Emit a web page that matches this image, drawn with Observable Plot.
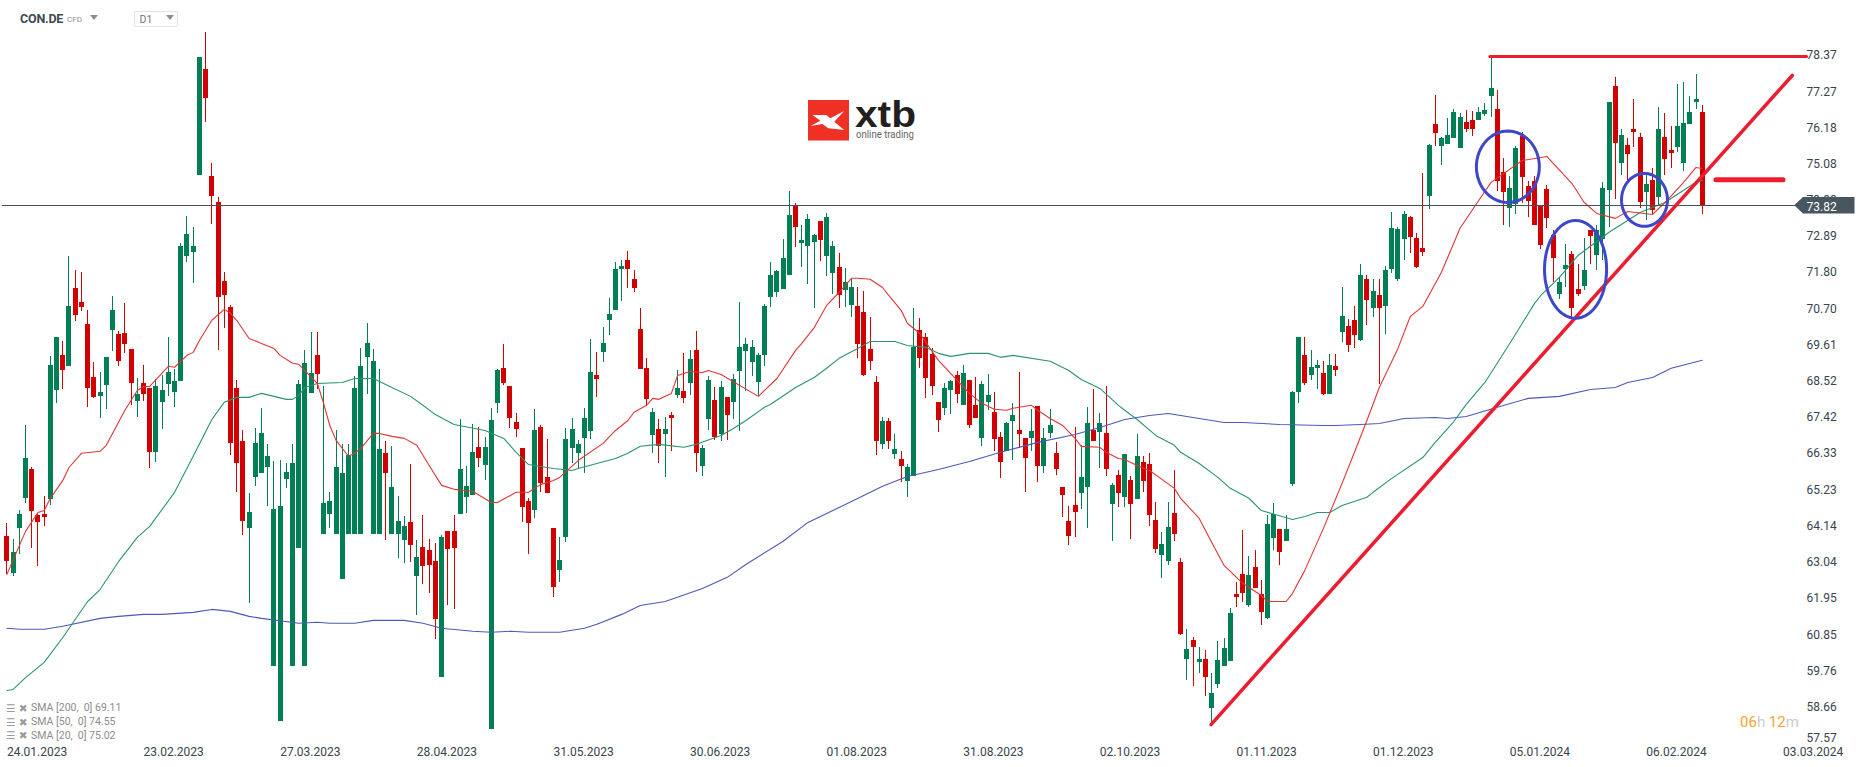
<!DOCTYPE html>
<html><head><meta charset="utf-8">
<style>
html,body{margin:0;padding:0;background:#fff;font-family:Roboto,sans-serif}
#wrap{position:relative;width:1866px;height:767px;overflow:hidden}
.o{position:absolute;white-space:pre;line-height:1}
</style>
<script src="https://cdn.jsdelivr.net/npm/d3@7"></script>
<script src="https://cdn.jsdelivr.net/npm/@observablehq/plot@0.6"></script>
</head><body>
<div id="wrap">
<div id="chart"></div>
<div class="o" style="left:20px;top:12.5px;font-size:12.5px;font-weight:700;color:#3d4a54;letter-spacing:-.2px">CON.DE</div>
<div class="o" style="left:67px;top:15.5px;font-size:8px;color:#8a8f94">CFD</div>
<div class="o" style="left:90px;top:15px;width:0;height:0;border-left:4px solid transparent;border-right:4px solid transparent;border-top:5px solid #8a8f94"></div>
<div class="o" style="left:134px;top:10.5px;width:42px;height:14px;border:1px solid #e2e2e2;border-radius:2px"></div>
<div class="o" style="left:139.5px;top:15px;font-size:10.5px;color:#777">D1</div>
<div class="o" style="left:166px;top:15px;width:0;height:0;border-left:4px solid transparent;border-right:4px solid transparent;border-top:5px solid #8a8f94"></div>
<svg class="o" style="left:0;top:0" width="1866" height="767">
  <rect x="808" y="100" width="41" height="40.5" fill="#ee3124"/>
  <path d="M812.5 115 L826.4 115 L830.3 118.3 L844.2 111 L834.3 121.7 L844.2 130 L828.3 128.3 L822.4 124 L810.5 126 L820.4 120.7 Z" fill="#fff"/>
  <text x="855" y="127" font-family="Liberation Sans" font-weight="700" font-size="36.5" fill="#231f20" textLength="61" lengthAdjust="spacingAndGlyphs">xtb</text>
  <text x="856" y="138" font-family="Roboto" font-size="10.5" fill="#666" textLength="58" lengthAdjust="spacingAndGlyphs">online trading</text>
</svg>
<div class="o" style="left:6px;top:702.5px;font-size:10.5px;color:#9a9a9a"><span style="font-family:'DejaVu Sans'">☰ ✖</span></div>
<div class="o" style="left:6px;top:716.5px;font-size:10.5px;color:#9a9a9a"><span style="font-family:'DejaVu Sans'">☰ ✖</span></div>
<div class="o" style="left:6px;top:730px;font-size:10.5px;color:#9a9a9a"><span style="font-family:'DejaVu Sans'">☰ ✖</span></div>
<div class="o" style="left:31px;top:703px;font-size:10.5px;color:#8c8c8c">SMA [200,  0] 69.11</div>
<div class="o" style="left:31px;top:717px;font-size:10.5px;color:#8c8c8c">SMA [50,  0] 74.55</div>
<div class="o" style="left:31px;top:730.5px;font-size:10.5px;color:#8c8c8c">SMA [20,  0] 75.02</div>
<div class="o" style="left:1740px;top:714.5px;font-size:15px;color:#ccc"><span style="color:#f7a531">06</span>h <span style="color:#f7a531">12</span>m</div>
</div>
<script>
const opens = [63.83,62.71,64.07,64.98,65.85,64.46,64.49,64.95,68.24,69.30,
68.97,71.32,70.90,70.24,68.63,68.06,68.39,70.05,69.93,69.96,
69.48,67.91,68.45,68.30,66.37,67.88,68.42,68.18,68.51,72.29,
72.41,74.74,77.94,74.71,73.92,71.54,70.75,68.30,66.70,64.07,
65.61,65.73,65.91,59.90,58.23,65.55,59.90,63.46,59.90,68.15,
69.30,63.89,64.49,63.89,62.53,63.89,63.89,63.89,69.24,63.89,
63.89,66.34,63.89,63.89,63.71,64.25,62.62,63.49,63.40,63.07,
59.56,63.98,63.98,64.49,65.01,65.07,66.52,65.97,57.99,67.85,
68.90,68.36,67.27,66.49,64.88,64.61,67.12,65.61,64.07,62.80,
63.80,66.49,66.34,66.79,67.00,68.69,69.39,70.36,70.66,71.90,
72.17,71.60,70.08,68.90,66.88,67.06,66.91,67.48,68.09,68.21,
68.45,69.45,65.94,67.36,67.94,66.91,68.03,67.88,68.81,69.42,
69.09,68.48,69.30,71.05,71.20,71.29,71.72,73.80,72.68,72.59,
72.71,73.35,72.29,71.78,71.96,71.26,70.81,70.78,70.60,69.48,
68.48,66.61,67.30,66.31,66.15,65.49,65.64,70.05,69.84,69.33,
67.88,67.70,68.24,68.69,67.79,68.54,67.79,66.79,67.88,67.58,
66.82,66.40,67.30,67.03,66.79,66.79,67.76,65.94,66.94,66.34,
65.31,64.28,64.76,65.13,65.31,67.03,66.97,66.94,64.79,65.67,
65.01,65.52,64.95,66.06,66.00,64.31,63.25,63.07,64.52,63.04,
60.11,60.68,60.02,60.11,58.63,59.35,59.90,60.05,62.07,62.68,
61.74,62.89,62.07,61.35,63.77,64.04,63.67,65.40,68.18,69.30,
68.69,68.91,68.75,68.12,68.97,69.99,70.18,70.36,69.75,71.60,
70.72,71.11,70.78,71.90,71.60,72.81,73.47,72.84,72.53,74.10,
76.28,75.62,75.68,75.86,75.56,76.34,76.40,76.40,76.58,77.13,
76.74,74.83,73.74,73.86,75.92,74.41,74.56,73.80,74.32,72.93,
71.14,71.90,72.35,71.29,71.38,73.08,72.32,72.80,74.29,77.43,
75.10,75.65,76.13,75.89,74.23,74.59,74.07,75.89,75.50,75.59,
75.10,76.28,76.95,76.64];
const closes = [63.07,63.34,64.49,66.18,64.58,64.25,64.40,68.99,69.84,68.85,
70.78,70.51,70.75,68.30,68.03,68.18,69.24,70.66,69.12,69.63,
68.45,68.12,68.12,66.37,68.36,68.24,68.78,68.51,72.59,72.96,
72.59,78.31,77.07,74.10,71.05,71.11,66.64,66.03,64.28,64.55,
66.64,66.94,66.24,64.64,64.73,65.76,66.03,68.42,69.06,68.75,
68.72,64.82,64.88,65.91,65.73,66.27,68.30,68.97,69.66,69.12,
66.46,65.73,65.31,64.28,64.13,63.55,63.19,62.92,62.95,61.32,
63.80,63.43,63.46,65.85,65.34,66.37,66.18,66.52,67.33,68.84,
68.45,67.39,67.06,64.70,64.22,67.03,65.43,65.13,62.29,63.10,
66.76,67.06,66.61,67.39,68.78,68.57,69.66,70.54,71.90,71.99,
71.90,71.32,68.87,67.97,67.57,66.55,67.06,67.39,68.30,67.99,
69.18,66.34,66.49,68.54,66.82,68.33,67.48,68.57,69.54,69.63,
69.54,69.30,70.78,71.72,71.84,72.23,73.53,73.17,72.77,73.41,
72.93,72.77,73.47,72.59,71.11,71.50,71.35,69.63,68.69,69.12,
66.70,67.30,66.70,66.46,65.94,65.91,69.54,69.21,68.60,68.36,
67.33,68.30,68.51,68.12,68.75,67.18,67.39,68.42,68.09,66.76,
66.06,67.24,67.48,66.91,66.18,67.00,65.94,66.79,67.18,65.85,
65.07,63.83,64.55,65.61,67.24,66.70,67.24,65.85,65.37,65.13,
66.31,64.79,66.25,65.49,64.46,63.43,63.58,64.10,63.89,60.86,
60.41,60.47,60.11,59.56,59.08,60.08,60.44,61.50,61.98,62.10,
62.65,62.25,61.53,64.19,64.49,63.34,64.04,68.18,69.84,68.45,
68.94,68.99,68.12,68.99,68.84,70.48,69.60,69.90,71.72,70.96,
71.23,70.72,71.87,73.14,73.11,73.56,72.87,71.96,72.41,75.65,
76.01,75.86,75.95,76.64,76.49,76.13,76.13,76.64,76.70,77.37,
74.56,74.23,74.35,75.56,74.68,73.95,73.23,72.62,73.44,72.23,
71.51,72.02,70.72,71.14,71.87,72.90,73.08,74.35,76.95,75.71,
75.95,75.37,76.04,73.92,74.47,73.68,76.13,75.22,75.40,76.22,
76.31,76.64,77.04,73.82];
const highs = [64.22,63.74,64.61,67.18,65.91,64.49,65.04,69.27,69.84,69.72,
72.29,71.87,71.81,70.66,69.09,68.78,69.24,71.08,70.02,70.87,
69.48,68.60,68.99,68.30,68.57,68.69,69.84,68.87,72.68,73.50,
73.17,78.31,79.06,75.10,74.07,71.81,70.81,68.54,67.03,65.13,
67.09,67.70,66.61,66.09,66.12,66.03,66.61,68.54,69.45,69.99,
69.99,68.36,65.16,67.03,66.61,66.61,68.66,69.51,70.27,69.48,
68.87,66.70,66.55,65.04,64.43,66.00,63.71,64.46,63.74,63.61,
63.86,63.98,64.46,67.36,65.94,67.21,67.12,66.82,67.70,68.87,
69.63,68.36,67.54,66.49,64.98,67.67,67.18,66.76,64.07,63.80,
67.09,67.39,66.73,67.70,69.78,69.39,70.14,71.02,72.11,72.17,
72.44,71.87,70.72,69.21,67.70,67.36,67.42,67.58,68.84,69.36,
69.45,70.02,66.58,68.66,68.33,68.51,68.03,68.72,70.90,69.81,
69.75,69.36,70.84,72.11,71.87,72.80,74.26,73.89,73.23,73.56,
72.96,73.35,73.59,72.74,72.38,71.93,71.60,71.35,71.23,70.45,
68.66,67.42,67.39,66.91,66.40,66.00,70.72,70.42,69.96,69.51,
67.88,68.45,68.54,68.81,68.99,68.54,68.63,68.51,68.72,68.18,
66.97,67.27,67.85,68.78,66.79,67.67,67.76,67.09,67.67,66.67,
65.31,64.73,67.12,66.58,67.73,68.27,67.54,68.36,65.43,65.82,
66.31,65.64,66.91,66.25,66.34,64.85,63.95,64.85,65.82,63.16,
61.02,60.77,60.47,60.38,59.68,60.65,60.74,61.65,62.44,64.01,
63.22,63.40,62.50,64.46,64.82,64.04,64.46,68.21,69.84,69.84,
69.45,69.15,69.12,69.33,69.33,71.35,70.39,70.78,72.05,71.72,
71.60,71.60,71.99,73.62,73.17,73.65,73.50,72.99,74.80,75.68,
77.16,75.89,76.46,76.73,76.61,76.70,76.67,76.80,76.92,78.34,
77.31,75.25,74.71,75.62,76.04,74.56,74.71,73.80,74.44,73.08,
71.66,72.65,72.44,72.05,72.84,73.08,73.23,74.53,76.95,77.70,
76.13,75.86,77.04,76.01,74.74,74.95,76.80,76.61,76.22,77.49,
77.55,77.13,77.79,76.86];
const lows = [62.68,62.62,63.28,64.82,63.46,62.92,64.13,64.76,67.85,68.27,
68.97,70.33,70.63,67.73,67.99,67.39,67.67,69.42,68.97,69.36,
67.79,67.42,67.91,65.88,66.06,67.06,68.06,67.73,68.51,72.11,
71.47,74.74,76.34,73.26,69.45,70.11,66.27,65.16,63.86,61.80,
65.34,65.73,64.73,59.90,58.23,65.28,59.90,63.46,59.90,68.15,
68.27,63.89,64.07,63.89,62.53,63.89,63.89,63.89,68.12,63.89,
63.89,63.71,63.89,63.16,63.01,63.04,61.44,62.38,62.10,60.71,
59.56,61.74,61.62,64.49,64.52,65.07,65.91,65.52,57.99,67.55,
68.39,67.09,66.82,64.25,63.28,64.37,65.16,65.13,61.98,62.44,
63.65,66.03,65.88,65.73,66.76,68.03,69.09,69.90,70.66,70.93,
71.32,71.20,68.87,67.79,66.34,66.03,65.61,66.40,67.99,67.85,
68.09,65.76,65.64,67.03,66.73,66.70,66.73,67.36,67.00,68.21,
68.66,68.06,68.97,70.75,71.05,71.29,71.72,72.56,71.96,71.44,
70.72,72.14,71.69,71.14,70.72,70.75,70.45,69.21,68.66,68.84,
66.27,66.46,66.46,66.15,65.46,65.01,65.64,68.91,67.99,68.09,
66.97,67.48,67.51,67.85,67.79,67.09,67.39,66.55,67.64,66.40,
65.58,66.40,66.12,66.49,65.16,66.40,65.46,65.73,66.79,65.67,
64.40,63.55,63.80,64.64,64.07,66.70,65.88,65.64,63.67,64.70,
64.70,63.74,64.95,65.16,64.13,63.31,62.56,62.95,63.67,60.83,
59.47,59.29,59.68,58.99,58.14,59.23,59.90,60.05,61.68,61.83,
61.68,62.25,61.14,61.32,63.40,62.95,63.67,65.34,67.85,68.39,
68.54,68.27,68.09,68.12,68.66,69.69,69.39,69.51,69.72,70.21,
70.45,68.42,69.93,71.78,71.54,72.17,72.38,71.93,72.29,73.71,
75.62,75.04,75.68,75.86,75.56,76.04,75.92,76.40,76.52,76.49,
74.26,73.23,73.17,73.56,73.89,73.47,73.23,72.50,73.14,71.51,
70.99,71.35,70.45,71.08,71.26,72.05,71.87,72.17,73.17,74.01,
74.74,74.53,75.59,73.74,73.38,73.53,73.83,74.74,74.95,75.43,
74.86,76.28,76.73,73.56];

const sma20Bars = [0,3,5,6,7,9,10,12,15,16,19,21,22,23,26,27,29,30,31,33,35,36,37,39,41,43,44,46,47,50,51,52,53,55,56,57,59,60,62,64,66,68,70,72,75,78,79,82,84,86,88,89,92,96,98,100,101,103,104,105,107,108,110,112,113,115,121,122,124,127,128,130,132,134,136,137,139,141,142,144,145,147,148,150,152,155,157,159,161,162,165,166,168,170,172,173,176,177,179,180,182,184,186,188,189,192,194,196,199,202,203,206,207,209,212,215,217,219,221,224,226,228,231,234,237,239,244,248,252,254,256,259,261,265,267,270,272,273];
const sma20Vals = [62.68,63.98,64.55,64.61,64.98,65.52,65.91,66.34,66.40,66.58,67.64,68.24,68.36,68.36,68.97,68.94,69.30,69.39,69.75,70.36,70.69,70.57,70.36,69.81,69.66,69.51,69.30,69.06,69.03,68.45,67.85,67.18,66.73,66.25,66.34,66.49,66.94,66.94,66.85,66.79,66.58,65.97,65.37,65.25,65.19,64.85,64.85,65.16,65.16,65.40,65.52,65.61,66.12,66.64,67.03,67.33,67.58,67.79,68.00,67.97,68.15,68.69,68.81,68.78,68.84,68.72,68.06,68.24,68.60,69.45,69.66,70.14,70.81,71.20,71.63,71.63,71.60,71.35,71.11,70.66,70.27,69.96,69.69,69.15,68.75,68.15,67.85,67.67,67.64,67.70,67.79,67.64,67.39,67.18,66.79,66.55,66.52,66.37,66.18,66.15,65.97,65.82,65.55,65.28,64.98,64.37,63.65,62.95,62.41,62.04,61.86,61.86,62.10,62.80,64.07,65.43,66.37,67.33,68.33,69.51,70.48,70.78,71.81,73.14,73.98,74.53,75.19,75.31,74.50,73.92,73.59,73.44,73.65,73.56,73.92,74.53,74.98,74.95];
const sma50Bars = [0,1,3,6,9,13,15,18,21,23,27,30,33,35,37,39,41,45,46,47,48,50,54,56,59,62,65,67,69,72,77,80,82,84,88,91,92,98,100,102,105,109,111,115,117,119,122,123,127,130,132,134,137,139,143,145,148,150,152,155,158,160,162,168,171,173,176,179,180,182,185,188,189,192,195,197,200,202,207,209,211,213,215,219,220,223,228,230,233,235,238,242,246,247,250,253,258,263,267,270,272,273];
const sma50Vals = [59.17,59.20,59.56,60.02,60.77,61.86,62.22,63.07,63.80,64.13,65.16,66.25,67.36,67.88,68.03,68.03,68.15,67.97,67.97,68.09,68.33,68.45,68.48,68.60,68.60,68.33,68.06,67.79,67.51,67.21,67.03,66.79,66.37,66.00,65.88,65.82,65.88,66.18,66.34,66.55,66.61,66.52,66.61,66.88,67.09,67.33,67.73,67.82,68.33,68.63,68.91,69.21,69.51,69.72,69.72,69.60,69.54,69.36,69.27,69.36,69.36,69.24,69.30,69.12,68.84,68.57,68.30,67.79,67.64,67.36,66.88,66.58,66.37,66.03,65.61,65.28,64.98,64.61,64.34,64.43,64.55,64.55,64.76,65.01,65.16,65.58,66.21,66.67,67.30,67.82,68.48,69.66,70.87,71.11,71.66,72.32,73.02,73.62,73.92,74.29,74.53,74.59];
const sma200Bars = [0,2,6,9,15,18,22,25,30,33,36,39,41,47,50,52,56,59,64,67,70,75,78,81,84,89,93,95,99,102,106,112,116,119,125,129,136,141,145,150,155,160,166,172,176,180,184,187,190,196,199,205,212,214,218,221,225,230,232,235,240,245,250,255,259,261,265,268,273];
const sma200Vals = [61.05,61.02,61.02,61.11,61.35,61.41,61.47,61.47,61.53,61.62,61.56,61.41,61.35,61.20,61.23,61.20,61.20,61.29,61.29,61.20,61.05,60.96,60.93,60.96,60.93,60.93,61.05,61.17,61.47,61.74,61.86,62.25,62.59,62.98,63.68,64.25,64.88,65.34,65.64,65.85,66.09,66.37,66.67,66.91,67.12,67.36,67.48,67.54,67.45,67.27,67.27,67.21,67.18,67.18,67.21,67.24,67.39,67.42,67.39,67.45,67.73,68.00,68.06,68.27,68.33,68.48,68.63,68.91,69.15];

const yTicks = [78.37,77.27,76.18,75.08,73.98,72.89,71.80,70.70,69.61,68.52,67.42,66.33,65.23,64.14,63.04,61.95,60.85,59.76,58.66];
const yBottomTick = [57.57];
const xTickBars = [0,22,44,66,88,110,132,154,176,198,220,242,264,286];
const xTickLabels = ["24.01.2023","23.02.2023","27.03.2023","28.04.2023","31.05.2023","30.06.2023","01.08.2023","31.08.2023","02.10.2023","01.11.2023","01.12.2023","05.01.2024","06.02.2024","03.03.2024"];
const lastPrice = 73.82;
const trendBars = [193.9,287.5], trendVals = [58.14,77.76];
const topBars = [238.8,289.8], topVals = [78.33,78.33];
const shortBars = [275.2,286], shortVals = [74.61,74.61];
const circles = [
  {cx:241.7, cy:75.0, rx:5.07, ry:1.08},
  {cx:252.6, cy:71.9, rx:5.0, ry:1.48},
  {cx:263.7, cy:74.0, rx:3.7, ry:0.80}
];
const tag = {bars:[287.9,289.3,297.6], lo:[73.82,73.57,73.57], hi:[73.82,74.07,74.07]};

const UP="#007f54", DOWN="#d20000";
const idx = d3.range(opens.length);
const col = i => closes[i]>=opens[i] ? UP : DOWN;
const series = (b,v)=>b.map((x,i)=>({x,y:v[i]}));
const ell = c => d3.range(0,361,6).map(a=>({x:c.cx+c.rx*Math.cos(a*Math.PI/180), y:c.cy+c.ry*Math.sin(a*Math.PI/180)}));
const axFont = {fontSize:12, fontFamily:"Roboto", fill:"#39444d", stroke:"none"};

const chart = Plot.plot({
  width:1866, height:767,
  marginLeft:0, marginRight:60, marginTop:0, marginBottom:24,
  style:{background:"transparent", fontFamily:"Roboto"},
  x:{domain:[-1.03,299.45], range:[0,1866]},
  y:{domain:[57.57,78.37], range:[742.9,54.8]},
  marks:[
    Plot.axisY(yTicks,{anchor:"right",tickSize:0,tickPadding:0,label:null,tickFormat:d=>d.toFixed(2),...axFont}),
    Plot.axisY(yBottomTick,{anchor:"right",tickSize:0,tickPadding:0,label:null,dy:-5.5,tickFormat:d=>d.toFixed(2),...axFont}),
    Plot.axisX(xTickBars,{anchor:"bottom",tickSize:0,tickPadding:4,label:null,textAnchor:"start",
      tickFormat:b=>xTickLabels[xTickBars.indexOf(b)],...axFont}),
    Plot.ruleX(idx,{x:i=>i,y1:i=>lows[i],y2:i=>highs[i],stroke:col,strokeWidth:1,shapeRendering:"crispEdges"}),
    Plot.ruleX(idx,{x:i=>i,y1:i=>opens[i],y2:i=>closes[i],stroke:col,strokeWidth:5,shapeRendering:"crispEdges"}),
    Plot.line(series(sma200Bars,sma200Vals),{x:"x",y:"y",stroke:"#4f58b8",strokeWidth:1.1}),
    Plot.line(series(sma50Bars,sma50Vals),{x:"x",y:"y",stroke:"#2a9471",strokeWidth:1.1}),
    Plot.line(series(sma20Bars,sma20Vals),{x:"x",y:"y",stroke:"#e03535",strokeWidth:1.1}),
    Plot.ruleY([lastPrice],{x1:-0.7,x2:288,stroke:"#45525c",strokeWidth:1,shapeRendering:"crispEdges"}),
    Plot.line(series(topBars,topVals),{x:"x",y:"y",stroke:"#ed1c2e",strokeWidth:3}),
    Plot.line(series(trendBars,trendVals),{x:"x",y:"y",stroke:"#ed1c2e",strokeWidth:3.5}),
    Plot.line(series(shortBars,shortVals),{x:"x",y:"y",stroke:"#ed1c2e",strokeWidth:5,strokeLinecap:"round"}),
    ...circles.map(c=>Plot.line(ell(c),{x:"x",y:"y",stroke:"#3f47c9",strokeWidth:3})),
    Plot.areaY(tag.bars.map((b,i)=>({b,lo:tag.lo[i],hi:tag.hi[i]})),{x:"b",y1:"lo",y2:"hi",fill:"#47565f"}),
    Plot.text([lastPrice],{x:289.8,y:d=>d,dy:1,text:d=>d.toFixed(2),textAnchor:"start",fill:"#fff",fontSize:12,fontFamily:"Roboto"})
  ]
});
document.getElementById("chart").append(chart);
</script>
</body></html>
